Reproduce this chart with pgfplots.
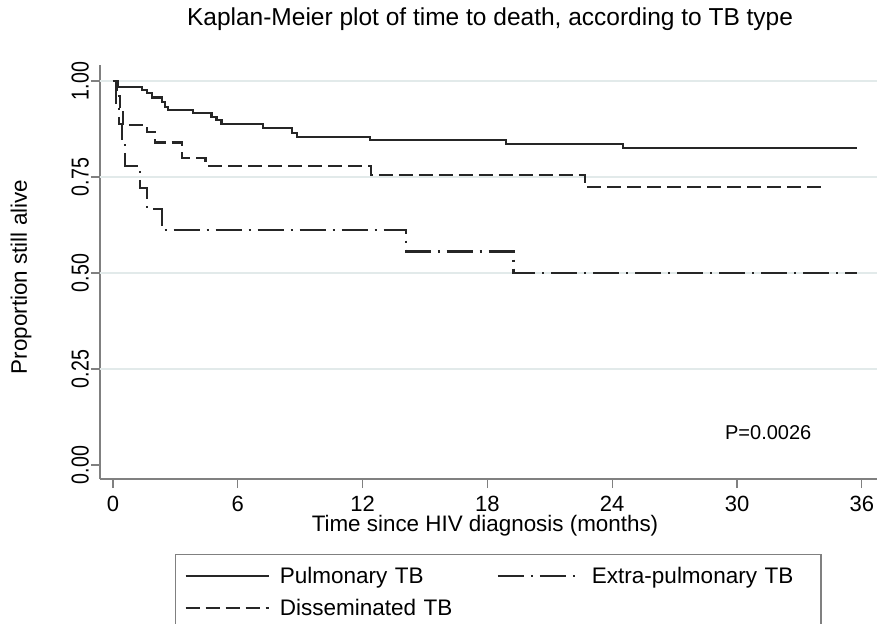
\documentclass[border=0pt]{standalone}
\usepackage{fontspec}
\setmainfont{Liberation Sans}
\newfontfamily\condfont[FakeStretch=0.80]{Liberation Sans}
\usepackage{pgfplots}
\pgfplotsset{compat=1.18}
\definecolor{gridc}{HTML}{E2EAEA}
\definecolor{axc}{HTML}{808080}
\definecolor{crv}{HTML}{262626}
\begin{document}
\begin{tikzpicture}
\useasboundingbox (0,0) rectangle (879pt,624pt);
\begin{axis}[
  at={(100pt,145pt)}, anchor=south west,
  scale only axis, width=777pt, height=414pt,
  xmin=-0.625, xmax=36.73, ymin=-0.0365, ymax=1.0417,
  axis lines=left, axis line style={-, draw=axc, line width=1.3pt},
  xtick={0,6,12,18,24,30,36}, ytick={0,0.25,0.5,0.75,1},
  tick align=outside, major tick length=9pt,
  tick style={draw=axc, line width=1.1pt},
  /pgf/number format/assume math mode=true,
  yticklabel style={/pgf/number format/fixed, /pgf/number format/fixed zerofill, /pgf/number format/precision=2,
    rotate=90, anchor=south, inner sep=2pt, font=\condfont\fontsize{24.5}{28}\selectfont},
  xticklabel style={font=\fontsize{22}{26}\selectfont, inner sep=3pt, yshift=-5pt},
  extra y ticks={0.25,0.5,0.75,1}, extra y tick labels={},
  extra y tick style={grid=major, major grid style={draw=gridc, line width=1.2pt}},
  xlabel={Time since HIV diagnosis (months)},
  xlabel style={at={(axis description cs:0.4955,-0.128)}, anchor=base, font=\fontsize{22.4}{26}\selectfont},
  ylabel={Proportion still alive},
  ylabel style={at={(axis description cs:-0.1017,0.488)}, anchor=center, font=\fontsize{22.4}{26}\selectfont},
  title={Kaplan-Meier plot of time to death, according to TB type},
  title style={at={(axis description cs:0.502,1.0821)}, anchor=base, font=\fontsize{24.5}{28}\selectfont},
  legend columns=2,
  legend cell align=left,
  legend image code/.code={\draw[#1] (0pt,0pt) -- (83pt,0pt);},
  legend style={at={(axis description cs:0.0965,-0.181)}, anchor=north west,
    draw=axc, line width=1.2pt, inner xsep=9pt, inner ysep=10pt,
    font=\fontsize{22.5}{26}\selectfont,
    nodes={inner sep=0pt, text height=19pt, text depth=4pt},
    row sep=9pt,
    /tikz/every odd column/.append style={column sep=10pt},
    /tikz/every even column/.append style={column sep=-3pt, nodes={text width=220pt}}},
]
\addplot[const plot, crv, line width=2.2pt] coordinates {
(0,1) (0.22,0.985) (1.38,0.977) (1.62,0.968) (1.86,0.957) (2.34,0.946)
(2.5,0.933) (2.66,0.924) (3.86,0.917) (4.74,0.907) (4.98,0.898) (5.22,0.888)
(7.23,0.877) (8.59,0.865) (8.83,0.855) (12.36,0.846) (18.9,0.836) (24.5,0.825)
(35.75,0.825)};
\addlegendentry{Pulmonary TB}
\addplot[const plot, crv, line width=2.2pt, dash pattern=on 26pt off 7pt on 2pt off 7pt] coordinates {
(0,1) (0.15,0.944) (0.3,0.889) (0.45,0.833) (0.58,0.778) (1.3,0.722)
(1.62,0.667) (2.34,0.611) (14.1,0.556) (19.25,0.5) (35.75,0.5)};
\addlegendentry{Extra-pulmonary TB}
\addplot[const plot, crv, line width=2.2pt, dash pattern=on 14pt off 6pt] coordinates {
(0,1) (0.2,0.96) (0.35,0.92) (0.5,0.885) (1.62,0.868) (2.0,0.84) (3.3,0.80)
(4.45,0.779) (12.4,0.755) (22.7,0.725) (34.07,0.725)};
\addlegendentry{Disseminated TB}
\node[font=\fontsize{20}{24}\selectfont] at (axis cs:31.5,0.083) {P=0.0026};
\end{axis}
\end{tikzpicture}
\end{document}
